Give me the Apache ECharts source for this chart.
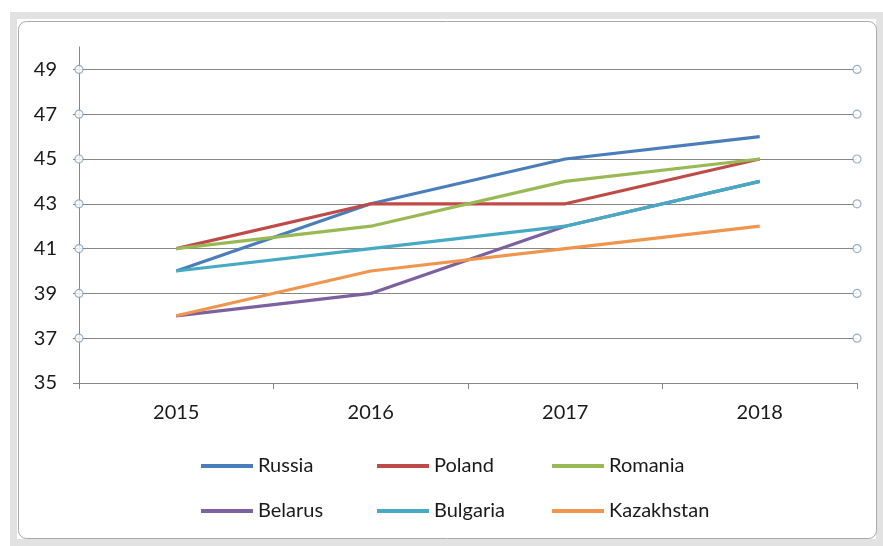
<!DOCTYPE html>
<html>
<head>
<meta charset="utf-8">
<script src="https://cdn.jsdelivr.net/npm/echarts@6/dist/echarts.min.js"></script>
<style>
  html, body { margin: 0; padding: 0; background: #fff; }
  #chart { width: 883px; height: 546px; }
</style>
</head>
<body>
<div id="chart"></div>
<script>
// data
var years = ["2015", "2016", "2017", "2018"];
var russia = [40, 43, 45, 46];
var poland = [41, 43, 43, 45];
var romania = [41, 42, 44, 45];
var belarus = [38, 39, 42, 44];
var bulgaria = [40, 41, 42, 44];
var kazakhstan = [38, 40, 41, 42];
// gridline values carrying the little selection handles
var handleTicks = [37, 39, 41, 43, 45, 47, 49];

var names = ["Russia", "Poland", "Romania", "Belarus", "Bulgaria", "Kazakhstan"];
var values = [russia, poland, romania, belarus, bulgaria, kazakhstan];
var colors = ["#4a7ebb", "#be4b48", "#98b954", "#7d60a0", "#46aac5", "#f0954e"];
var font = "Lato, 'Liberation Sans', sans-serif";

const chart = echarts.init(document.getElementById("chart"));

// line series
var series = names.map(function (n, i) {
  return {
    name: n,
    type: "line",
    data: values[i],
    symbol: "none",
    lineStyle: { width: 3.2, color: colors[i] },
    itemStyle: { color: colors[i] },
    z: 3,
  };
});

// selection handles at both ends of the gridlines
var handles = [];
handleTicks.forEach(function (v) {
  handles.push([0, v]);
  handles.push([1, v]);
});
series.push({
  type: "scatter",
  xAxisIndex: 1,
  data: handles,
  symbol: "circle",
  symbolSize: 8,
  itemStyle: { color: "#fff", borderColor: "#7f9dbd", borderWidth: 1.2 },
  silent: true,
  z: 4,
});

// one legend per slot so the columns line up like Excel
var legendLeft = [196, 372, 547, 196, 372, 547];
var legendTop = [451, 451, 451, 496, 496, 496];
var legends = names.map(function (n, i) {
  return {
    data: [n],
    left: legendLeft[i],
    top: legendTop[i],
    icon: "rect",
    itemWidth: 52,
    itemHeight: 4,
    textStyle: { fontFamily: font, fontSize: 20, color: "#1a1a1a" },
    selectedMode: false,
  };
});

const option = {
  animation: false,
  backgroundColor: "#fff",
  grid: { left: 79, right: 26, top: 47, bottom: 163 },
  legend: legends,
  xAxis: [
    {
      type: "category",
      data: years,
      boundaryGap: true,
      axisLine: { lineStyle: { color: "#868686", width: 1 } },
      axisTick: { show: true, length: 6, lineStyle: { color: "#868686" } },
      axisLabel: { fontFamily: font, fontSize: 20, color: "#1a1a1a", margin: 20 },
    },
    {
      type: "value",
      min: 0,
      max: 1,
      show: false,
    },
  ],
  yAxis: {
    type: "value",
    min: 35,
    max: 50,
    interval: 2,
    axisLine: { show: true, lineStyle: { color: "#868686", width: 1 } },
    axisTick: { show: true, length: 6, lineStyle: { color: "#868686" } },
    axisLabel: {
      fontFamily: font,
      fontSize: 20,
      color: "#1a1a1a",
      margin: 22,
      showMaxLabel: false,
    },
    splitLine: {
      show: true,
      showMinLine: false,
      showMaxLine: false,
      lineStyle: { color: "#868686", width: 1 },
    },
  },
  graphic: [
    {
      type: "rect",
      shape: { x: 13.5, y: 15.5, width: 866, height: 527 },
      style: { fill: null, stroke: "#e2e2e2", lineWidth: 7 },
      silent: true,
    },
    {
      type: "rect",
      shape: { x: 18.5, y: 21.5, width: 858, height: 517, r: 8 },
      style: { fill: null, stroke: "#a9a9a9", lineWidth: 1 },
      silent: true,
    },
  ],
  series: series,
};
option && chart.setOption(option);
</script>
</body>
</html>
